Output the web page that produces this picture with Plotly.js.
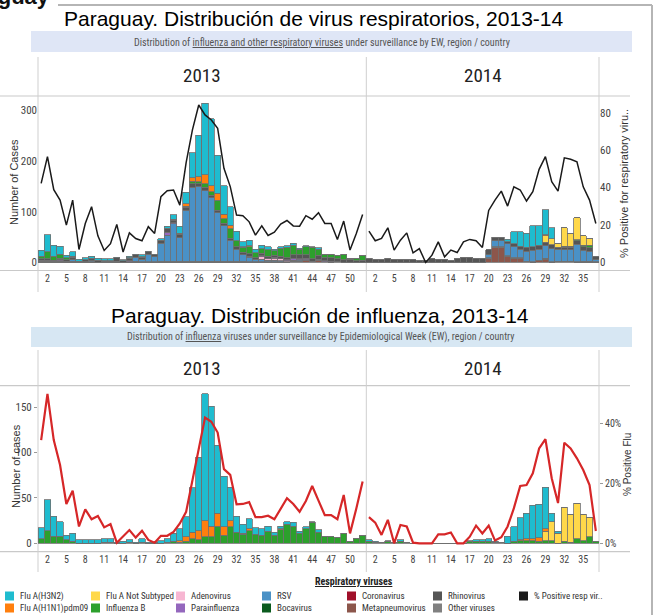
<!DOCTYPE html>
<html><head><meta charset="utf-8">
<script src="https://cdn.plot.ly/plotly-3.0.1.min.js"></script>
<style>html,body{margin:0;padding:0;background:#fff;overflow:hidden}#chart{width:658px;height:615px}</style>
</head><body><div id="chart"></div><script>
// ---------- categories ----------
const tickWeeks2013 = [2,5,8,11,14,17,20,23,26,29,32,35,38,41,44,47,50];
const tickWeeks2014 = [2,5,8,11,14,17,20,23,26,29,32,35];
const yearLabels = ['2013','2014'];
const fluPctTicks = [0,20,40];
const fluPctTickText = ['0%','20%','40%'];

// ---------- top chart: respiratory viruses (cases) ----------
const respH3N2_2013 = [12,34,22,16,5,9,4,4,4,4, 4,4,1,2,3,1,4,1,1,3, 4,9,13,22,49,81,140,132,75,56, 37,18,10,11,7,7,6,3,3,3, 4,2,2,1,3,0,0,0,0,0, 0,0];
const respH3N2_2014 = [0,0,0,0,0,0,0,0,0,0, 0,0,0,0,0,0,0,0,0,0, 0,0,5,23,28,28,41,38,49,21, 0,0,0,0,0,0,0];
const respH1N1_2013 = [0,0,0,0,0,0,0,0,0,0, 0,0,0,0,0,0,0,0,0,0, 0,0,2,5,7,10,18,12,14,9, 7,0,1,2,0,0,0,0,1,0, 0,0,0,0,0,0,0,0,0,0, 0,0];
const respH1N1_2014 = [0,0,0,0,0,0,0,0,0,0, 0,0,0,0,0,0,0,0,0,0, 0,0,0,0,0,0,0,1,2,0, 0,0,0,0,0,0,0];
const respNotSub_2013 = [0,0,0,0,0,0,0,0,0,0, 0,0,0,0,0,0,0,0,0,0, 0,0,0,0,0,0,0,0,0,0, 0,0,0,0,0,0,0,0,0,0, 0,0,0,0,0,0,0,0,0,0, 0,0];
const respNotSub_2014 = [0,0,0,0,0,0,0,0,0,0, 0,0,0,0,0,0,0,0,0,0, 0,0,0,0,0,0,0,0,13,12, 7,36,25,43,19,13,0];
const respFluB_2013 = [5,14,8,8,4,2,0,0,0,0, 1,1,0,0,1,0,1,0,0,0, 1,2,1,2,5,4,7,7,19,9, 18,12,10,14,10,9,13,9,15,21, 19,11,16,23,12,7,7,6,11,2, 5,9];
const respFluB_2014 = [0,0,0,0,0,0,0,0,0,0, 0,0,0,0,0,0,0,0,0,0, 0,0,0,0,0,0,0,0,0,0, 0,2,2,2,3,5,0];
const respRSV_2013 = [1,1,0,1,0,3,0,0,2,0, 0,0,0,0,0,8,5,15,10,36, 52,74,47,101,146,148,139,125,96,70, 42,24,13,9,4,5,3,3,2,1, 2,2,1,0,0,0,0,0,0,0, 0,0];
const respRSV_2014 = [0,0,0,0,0,0,0,0,0,0, 0,0,0,0,0,0,0,0,0,6, 12,12,24,22,17,20,23,22,25,26, 24,23,23,35,22,20,4];
const respAdeno_2013 = [0,0,0,0,0,0,0,0,0,0, 0,0,0,0,0,0,0,0,0,0, 0,0,0,0,0,0,0,0,0,0, 0,0,0,2,1,5,3,4,4,2, 0,0,0,0,0,0,0,0,0,0, 0,0];
const respAdeno_2014 = [0,0,0,0,0,0,0,0,0,0, 0,0,0,0,0,0,0,0,0,0, 0,0,0,0,0,0,0,0,0,0, 0,0,0,0,0,0,0];
const respPara_2013 = [2,1,1,2,1,0,0,0,0,0, 0,0,0,0,2,0,0,0,0,0, 5,2,0,0,0,0,0,0,0,0, 0,0,0,0,0,2,0,2,0,2, 4,2,3,0,2,2,2,0,0,0, 0,0];
const respPara_2014 = [0,0,0,0,0,0,0,0,0,0, 0,0,0,0,0,0,0,0,0,0, 0,0,0,0,0,0,0,0,0,0, 0,0,0,0,0,0,0];
const respRhino_2013 = [3,3,2,3,3,5,2,4,5,4, 2,2,7,3,5,5,4,5,4,6, 7,5,6,6,7,5,7,5,5,5, 4,5,5,5,3,5,5,4,5,4, 7,8,7,5,8,6,7,6,5,6, 3,4];
const respRhino_2014 = [8,6,5,8,6,5,6,5,4,4, 7,5,5,4,7,10,9,8,7,10, 7,7,4,6,6,8,7,7,7,8, 4,5,5,7,7,7,6];
const respOther_2013 = [1,1,1,1,1,2,0,1,1,0, 0,0,2,0,1,2,1,1,1,2, 2,2,2,2,2,2,2,2,2,2, 2,2,2,1,1,1,1,1,1,0, 1,1,1,0,1,0,0,0,0,0, 0,0];
const respOther_2014 = [0,0,0,0,0,0,0,0,0,0, 0,0,0,0,0,0,0,0,0,2, 2,2,1,1,1,1,1,1,1,1, 1,1,1,1,1,1,1];
const respMeta_2013 = [0,0,0,0,0,0,0,0,0,0, 0,0,0,0,0,0,0,0,0,0, 0,0,0,0,0,0,0,0,0,0, 0,0,0,0,0,0,0,0,0,0, 1,2,3,2,3,1,0,1,0,0, 0,0];
const respMeta_2014 = [0,0,0,0,0,0,0,0,0,0, 0,0,0,0,0,0,0,0,0,7, 29,29,12,8,8,1,0,3,6,0, 1,1,1,0,0,0,0];
const respBoca_2013 = [0,1,0,1,0,0,0,0,0,0, 0,0,0,0,0,0,0,0,0,0, 0,0,0,0,0,0,0,0,0,0, 0,0,0,0,0,0,0,0,0,0, 0,0,0,0,0,0,0,0,0,0, 0,0];
const respBoca_2014 = [0,0,0,0,0,0,0,0,0,0, 0,0,0,0,0,0,0,0,0,0, 0,0,0,0,0,0,0,0,0,0, 0,0,0,0,1,1,0];
const respCorona_2013 = [0,0,0,0,0,0,0,0,0,0, 0,0,0,0,0,0,0,0,0,0, 0,0,0,0,0,0,0,0,0,0, 0,0,0,0,0,0,0,0,0,0, 0,0,0,0,0,0,0,0,0,0, 0,0];
const respCorona_2014 = [0,0,0,0,0,0,0,0,0,0, 0,0,0,0,0,0,0,0,0,0, 0,0,0,0,0,0,0,0,1,0, 0,0,0,0,0,0,0];
const respPct_2013 = [42.2,56.5,38.9,33.3,19.9,33.3,6.9,20.8,29.8,14.2, 6.4,10,20.3,5.6,15.8,12.8,11.6,19.1,15.5,35.1, 38.3,38.7,30.6,53.3,70.8,84.1,78.8,76.1,71.6,50.3, 40.5,25.3,25,21.7,14.6,19.6,14.4,16.2,20.5,22.4, 19.5,19.4,25,23.1,26.6,20.8,20.8,12.3,22.1,6.6, 15.5,25.6];
const respPct_2014 = [16.7,11.6,12.8,18.5,6.6,11.9,15.8,5.1,7.4,0, 3.9,11,3,6.6,5.3,11,12.3,11.6,8,27.8, 33.3,38.1,30.1,40.4,38.7,32.8,37.8,49.7,56.5,43.1, 38.1,55.9,55.1,53.8,40.4,33.3,20.8];

// ---------- bottom chart: influenza (cases) ----------
const fluH3N2_2013 = [12,34,22,16,5,9,4,4,4,4, 4,4,1,2,3,1,4,1,1,3, 4,9,13,22,49,81,140,132,75,56, 37,18,10,11,7,7,6,3,3,3, 4,2,2,1,3,0,0,0,0,0, 0,0];
const fluH3N2_2014 = [2,1,0,1,0,2,0,0,0,0, 0,0,0,0,0,0,1,2,2,3, 1,0,8,16,24,28,37,37,46,9, 2,0,0,0,0,0,0];
const fluH1N1_2013 = [0,0,0,0,0,0,0,0,0,0, 0,0,0,0,0,0,0,0,0,0, 0,0,2,5,7,10,18,12,14,9, 7,0,1,2,0,0,0,0,1,0, 0,0,0,0,0,0,0,0,0,0, 0,0];
const fluH1N1_2014 = [0,0,0,0,0,0,0,0,0,0, 0,0,0,0,0,0,0,0,0,0, 0,0,0,0,1,2,2,4,3,0, 0,0,0,0,0,0,0];
const fluNotSub_2013 = [0,0,0,0,0,0,0,0,0,0, 0,0,0,0,0,0,0,0,0,0, 0,0,0,0,0,0,0,0,0,0, 0,0,0,0,0,0,0,0,0,0, 0,0,0,0,0,0,0,0,0,0, 0,0];
const fluNotSub_2014 = [0,0,0,0,0,0,0,0,0,0, 0,0,0,0,0,0,0,0,0,0, 0,0,0,0,0,0,0,0,10,21, 11,38,31,39,29,21,0];
const fluB_2013 = [5,14,8,8,4,2,0,0,0,0, 1,1,0,0,1,0,1,0,0,0, 1,2,1,2,5,4,7,7,19,9, 18,12,10,14,10,9,13,9,15,21, 19,11,16,23,12,7,7,6,11,2, 5,9];
const fluB_2014 = [2,1,1,2,1,2,1,0,0,0, 0,0,0,0,0,0,2,2,2,2, 1,1,0,2,3,3,3,2,3,3, 0,2,1,5,3,7,2];
const fluPct_2013 = [34.4,49.8,34.4,26.1,13.1,17.5,5.6,11.3,8,9.1, 5.3,6.4,0.2,2.2,4.4,1.9,4.2,1.1,0.2,2.5, 2.5,3.8,6.6,10.5,21.1,32.2,41.9,40.5,36.9,24.7, 22.8,13,13.1,13.7,8.7,8.7,9.2,8,11.7,15, 13.1,10.5,14.1,19.1,14.2,9.4,9.4,8,16.1,3.3, 11.6,20.6];
const fluPct_2014 = [8.7,6.9,2.8,7.8,0,6.1,5.6,0.2,0,0, 0,3,3,3.6,0,0,2.2,5.9,3.3,5.9, 0.9,2,5.6,11.7,19.1,19.4,23.3,31.6,34.7,21.7, 13.4,33.5,31.6,28.3,24.4,19.4,4.1];

// ---------- legend ----------
const legendNames = ['Flu A(H3N2)','Flu A Not Subtyped','Adenovirus','RSV','Coronavirus','Rhinovirus','% Positive resp vir..',
                     'Flu A(H1N1)pdm09','Influenza B','Parainfluenza','Bocavirus','Metapneumovirus','Other viruses'];
const COLORS = {
  'Flu A(H3N2)':'#1fbccf','Flu A(H1N1)pdm09':'#ff7f0e','Flu A Not Subtyped':'#ffd84a','Influenza B':'#2ca02c',
  'Adenovirus':'#f7b6d2','Parainfluenza':'#9467bd','RSV':'#4a91c6','Bocavirus':'#0b5b1e',
  'Coronavirus':'#a0102a','Metapneumovirus':'#8c564b','Rhinovirus':'#555555','Other viruses':'#808080',
  '% Positive resp vir..':'#1a1a1a'
};

// ---------- helpers ----------
const W = 658, H = 615, L = 38, R = 599;
const px = v => (v - L) / (R - L);
const py = v => 1 - v / H;
const NARROW = "'Liberation Sans Narrow','Arial Narrow','Roboto Condensed','Liberation Sans',Arial,sans-serif";
const ARIAL = "'Liberation Sans',Arial,sans-serif";
const n13 = respPct_2013.length, n14 = respPct_2014.length;
const x13 = [], x14 = [];
for (let i = 0; i < n13; i++) x13.push(i);
for (let i = 0; i < n14; i++) x14.push(n13 + i);
const xAll = x13.concat(x14);
const tickVals = tickWeeks2013.map(w => w - 1).concat(tickWeeks2014.map(w => n13 + w - 1));
const tickText = tickWeeks2013.concat(tickWeeks2014).map(String);

const traces = [];
function bar(name, a13, a14, xa, ya) {
  traces.push({type:'bar', name, x:xAll, y:a13.concat(a14), xaxis:xa, yaxis:ya,
    marker:{color:COLORS[name], line:{color:'#6f6f6f', width:0.8}}, showlegend:false, hoverinfo:'skip'});
}
// top stack (bottom -> top)
bar('Metapneumovirus', respMeta_2013, respMeta_2014, 'x', 'y');
bar('Coronavirus', respCorona_2013, respCorona_2014, 'x', 'y');
bar('Bocavirus', respBoca_2013, respBoca_2014, 'x', 'y');
bar('Other viruses', respOther_2013, respOther_2014, 'x', 'y');
bar('RSV', respRSV_2013, respRSV_2014, 'x', 'y');
bar('Adenovirus', respAdeno_2013, respAdeno_2014, 'x', 'y');
bar('Parainfluenza', respPara_2013, respPara_2014, 'x', 'y');
bar('Rhinovirus', respRhino_2013, respRhino_2014, 'x', 'y');
bar('Influenza B', respFluB_2013, respFluB_2014, 'x', 'y');
bar('Flu A Not Subtyped', respNotSub_2013, respNotSub_2014, 'x', 'y');
bar('Flu A(H1N1)pdm09', respH1N1_2013, respH1N1_2014, 'x', 'y');
bar('Flu A(H3N2)', respH3N2_2013, respH3N2_2014, 'x', 'y');
// bottom stack
bar('Influenza B', fluB_2013, fluB_2014, 'x2', 'y3');
bar('Flu A Not Subtyped', fluNotSub_2013, fluNotSub_2014, 'x2', 'y3');
bar('Flu A(H1N1)pdm09', fluH1N1_2013, fluH1N1_2014, 'x2', 'y3');
bar('Flu A(H3N2)', fluH3N2_2013, fluH3N2_2014, 'x2', 'y3');
// lines
[[x13, respPct_2013],[x14, respPct_2014]].forEach(([xx, yy]) => traces.push({type:'scatter', mode:'lines', x:xx, y:yy,
  xaxis:'x', yaxis:'y2', line:{color:'#1a1a1a', width:1.5}, showlegend:false, hoverinfo:'skip'}));
[[x13, fluPct_2013],[x14, fluPct_2014]].forEach(([xx, yy]) => traces.push({type:'scatter', mode:'lines', x:xx, y:yy,
  xaxis:'x2', yaxis:'y4', line:{color:'#d62728', width:2.2}, showlegend:false, hoverinfo:'skip'}));

const xCommon = {domain:[0,1], range:[-0.5, n13 + n14 - 0.5], tickvals:tickVals, ticktext:tickText,
  showgrid:false, zeroline:false, showline:false, ticks:'', tickfont:{family:NARROW, size:10, color:'#444'}, fixedrange:true};
const yCommon = {showgrid:false, zeroline:false, showline:false, fixedrange:true,
  tickfont:{family:NARROW, size:11, color:'#444'}};

const annotations = [], shapes = [];
function ann(text, x, y, size, o = {}) {
  annotations.push(Object.assign({text, xref:'paper', yref:'paper', x:px(x), y:py(y), xanchor:'center', yanchor:'middle',
    showarrow:false, font:{family:o.family || ARIAL, size, color:o.color || '#000'}}, o.extra || {}));
}
function line(x0, y0, x1, y1, color, width) {
  shapes.push({type:'line', xref:'paper', yref:'paper', x0:px(x0), x1:px(x1), y0:py(y0), y1:py(y1), line:{color, width}, layer:'below'});
}
function rect(x0, y0, x1, y1, fill) {
  shapes.push({type:'rect', xref:'paper', yref:'paper', x0:px(x0), x1:px(x1), y0:py(y0), y1:py(y1), fillcolor:fill, line:{width:0}, layer:'below'});
}

// outer frame
line(58, 5, 652, 5, '#b5b5b5', 2);
line(652, 5, 652, 615, '#b5b5b5', 2);
annotations.push({text:'<b>Paraguay</b>', xref:'paper', yref:'paper', x:px(52), y:py(-3), xanchor:'right', yanchor:'middle',
  showarrow:false, font:{family:ARIAL, size:22, color:'#111'}});

// top chart frame
ann('Paraguay. Distribución de virus respiratorios, 2013-14', 314, 19, 21);
rect(31, 31, 632, 52, '#dfe6f6');
ann('Distribution of <u>influenza and other respiratory viruses</u> under surveillance by EW, region / country', 322, 42, 10, {family:NARROW, color:'#555'});
ann(yearLabels[0], 202, 76, 19, {family:NARROW, color:'#222'});
ann(yearLabels[1], 482.5, 76, 19, {family:NARROW, color:'#222'});
line(0, 96, 630, 96, '#c9c9c9', 1.2);
line(0, 270.5, 630, 270.5, '#c9c9c9', 1.2);
[38, 366.3, 599].forEach(v => line(v, 57, v, 292, '#cfcfcf', 1));
ann('Number of Cases', 14, 182, 11, {color:'#333', extra:{textangle:-90}});
ann('% Positive for respiratory viru..', 624, 184, 11, {color:'#333', extra:{textangle:-90}});

// bottom chart frame
ann('Paraguay. Distribución de influenza, 2013-14', 320, 315, 21);
rect(31, 327, 632, 347, '#d7e7f3');
ann('Distribution of <u>influenza</u> viruses under surveillance by Epidemiological Week (EW), region / country', 320, 337, 10, {family:NARROW, color:'#555'});
ann(yearLabels[0], 202, 368, 19, {family:NARROW, color:'#222'});
ann(yearLabels[1], 482.5, 368, 19, {family:NARROW, color:'#222'});
line(0, 385.7, 630, 385.7, '#c9c9c9', 1.2);
line(0, 551.7, 630, 551.7, '#c9c9c9', 1.2);
[38, 366.3, 599].forEach(v => line(v, 350, v, 572, '#cfcfcf', 1));
ann('Number of cases', 16, 466, 11, {color:'#333', extra:{textangle:-90}});
ann('% Positive Flu', 627, 465, 10, {color:'#333', extra:{textangle:-90}});

// legend
ann('<u>Respiratory viruses</u>', 354, 581, 10, {family:NARROW, color:'#222', extra:{font:{family:NARROW, size:10, color:'#222', weight:'bold'}}});
const legCols = [5, 91, 176, 262, 347, 433, 519], legRows = [596, 608];
legendNames.forEach((nm, i) => {
  const r = i < 7 ? 0 : 1, c = i < 7 ? i : i - 7;
  const x0 = legCols[c], yc = legRows[r];
  shapes.push({type:'rect', xref:'paper', yref:'paper', x0:px(x0), x1:px(x0 + 9), y0:py(yc + 4.5), y1:py(yc - 4.5),
    fillcolor:COLORS[nm], line:{width:0}});
  annotations.push({text:nm, xref:'paper', yref:'paper', x:px(x0 + 13), y:py(yc), xanchor:'left', yanchor:'middle',
    showarrow:false, font:{family:NARROW, size:9, color:'#333'}});
});

const layout = {
  width:W, height:H, margin:{l:L, r:W - R, t:0, b:0, pad:0}, paper_bgcolor:'#fff', plot_bgcolor:'rgba(0,0,0,0)',
  barmode:'stack', bargap:0, showlegend:false,
  xaxis:Object.assign({}, xCommon, {anchor:'y'}),
  xaxis2:Object.assign({}, xCommon, {anchor:'y3'}),
  yaxis:Object.assign({}, yCommon, {domain:[py(270.5), py(96)], range:[-15.8, 327.6], tickvals:[0,100,200,300], anchor:'x'}),
  yaxis2:Object.assign({}, yCommon, {overlaying:'y', side:'right', range:[-4.3, 88.9], tickvals:[0,20,40,60,80], anchor:'x'}),
  yaxis3:Object.assign({}, yCommon, {domain:[py(551.7), py(385.7)], range:[-9.3, 173.8], tickvals:[0,50,100,150], anchor:'x2',
    ticks:'outside', ticklen:3, tickcolor:'#999'}),
  yaxis4:Object.assign({}, yCommon, {overlaying:'y3', side:'right', range:[-2.8, 52.5], tickmode:'array',
    tickvals:fluPctTicks, ticktext:fluPctTickText, anchor:'x2',
    ticks:'outside', ticklen:3, tickcolor:'#999', tickfont:{family:NARROW, size:10, color:'#444'}}),
  annotations, shapes
};
Plotly.newPlot('chart', traces, layout, {staticPlot:true, displayModeBar:false});
</script></body></html>
